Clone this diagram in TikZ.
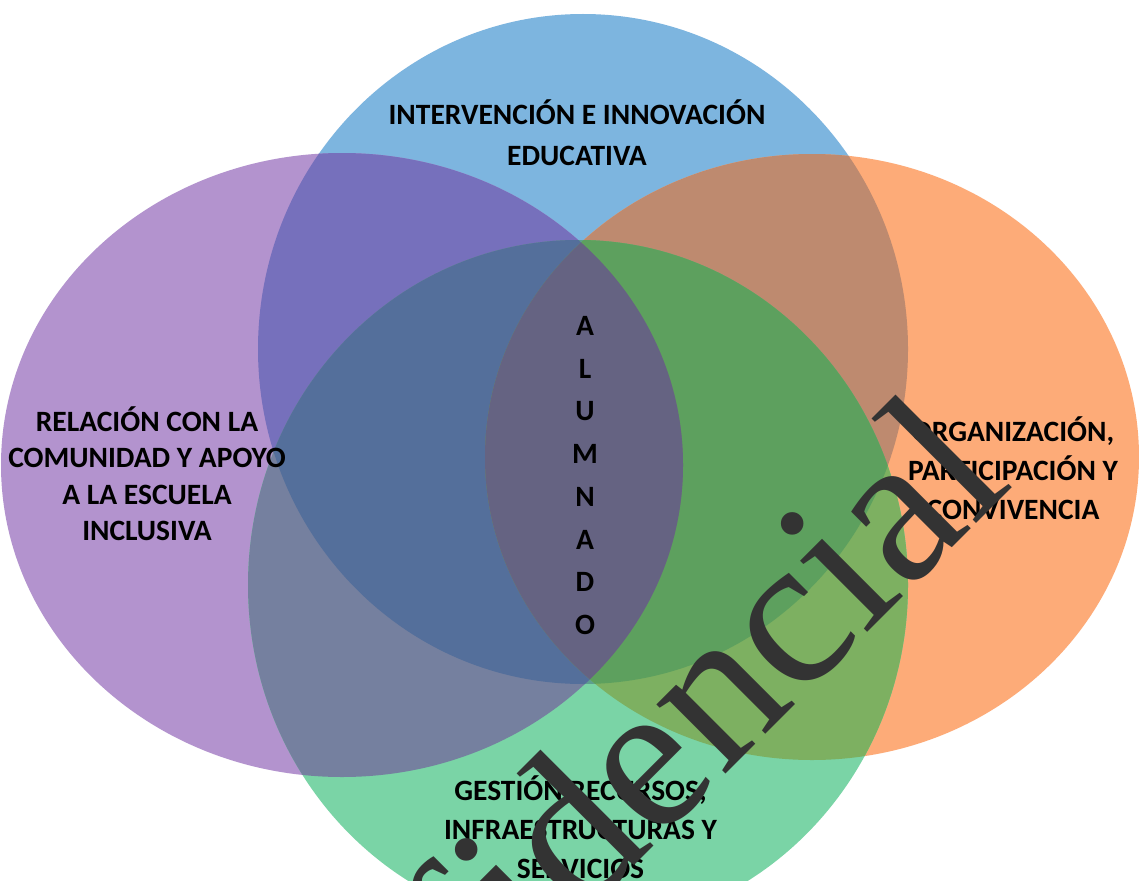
\documentclass[tikz,border=0pt]{standalone}
\usepackage{fontspec}
\setmainfont{Carlito}
\newfontfamily\wmfont{Liberation Serif}
\definecolor{cB}{HTML}{7DB5DF}
\definecolor{cP}{HTML}{B393CE}
\definecolor{cO}{HTML}{FDAB78}
\definecolor{cG}{HTML}{7AD4A6}
\definecolor{cBP}{HTML}{7670BC}
\definecolor{cBO}{HTML}{BE8A6F}
\definecolor{cBG}{HTML}{5D9F8F}
\definecolor{cPO}{HTML}{8E6E90}
\definecolor{cPG}{HTML}{75809F}
\definecolor{cOG}{HTML}{7DB061}
\definecolor{cBPO}{HTML}{7B6C92}
\definecolor{cBPG}{HTML}{546F9B}
\definecolor{cBOG}{HTML}{5DA05E}
\definecolor{cPOG}{HTML}{6F7A73}
\definecolor{cAll}{HTML}{656382}
\definecolor{wmgray}{HTML}{333333}
\def\pB{(583,349) ellipse [x radius=325pt, y radius=335pt]}
\def\pP{(342,465) ellipse [x radius=341pt, y radius=312pt]}
\def\pO{(812,457) ellipse [x radius=327pt, y radius=303pt]}
\def\pG{(578,585) ellipse [x radius=330pt, y radius=345pt]}
\begin{document}
\begin{tikzpicture}[x=1pt,y=-1pt,
  lbl/.style={font=\bfseries\fontsize{29.5}{38.5}\selectfont, align=center, text=black, inner sep=0pt},
  wm/.style={font=\wmfont\fontsize{213}{213}\selectfont, text=wmgray, inner sep=0pt}]
\useasboundingbox (0,0) rectangle (1139,880);
\clip (0,0) rectangle (1139,880);
\fill[white] (0,0) rectangle (1139,880);
% single regions
\fill[cB] \pB;
\fill[cP] \pP;
\fill[cO] \pO;
\fill[cG] \pG;
% pairs
\begin{scope}\clip \pB; \fill[cBP] \pP; \fill[cBO] \pO; \fill[cBG] \pG; \end{scope}
\begin{scope}\clip \pP; \fill[cPO] \pO; \fill[cPG] \pG; \end{scope}
\begin{scope}\clip \pO; \fill[cOG] \pG; \end{scope}
% triples
\begin{scope}\clip \pB; \clip \pP; \fill[cBPO] \pO; \fill[cBPG] \pG; \end{scope}
\begin{scope}\clip \pB; \clip \pO; \fill[cBOG] \pG; \end{scope}
\begin{scope}\clip \pP; \clip \pO; \fill[cPOG] \pG; \end{scope}
% all four
\begin{scope}\clip \pB; \clip \pP; \clip \pO; \fill[cAll] \pG; \end{scope}
% labels
\node[lbl, font=\bfseries\fontsize{29.5}{40.5}\selectfont] (top) at (577,132.5) {INTERVENCIÓN E INNOVACIÓN\\EDUCATIVA};
\node[lbl, font=\bfseries\fontsize{29.5}{36.5}\selectfont] (left) at (147,473.5) {RELACIÓN CON LA\\COMUNIDAD Y APOYO\\A LA ESCUELA\\INCLUSIVA};
\node[lbl, font=\bfseries\fontsize{29.5}{39}\selectfont] (right) at (1013,468) {ORGANIZACIÓN,\\PARTICIPACIÓN Y\\CONVIVENCIA};
\node[lbl, font=\bfseries\fontsize{29.5}{39}\selectfont] (bottom) at (580.5,827.5) {GESTIÓN RECURSOS,\\INFRAESTRUCTURAS Y\\SERVICIOS};
\node[lbl, font=\bfseries\fontsize{29.5}{42.7}\selectfont] (center) at (585,475.5) {A\\L\\U\\M\\N\\A\\D\\O};
% watermark
\node[wm, rotate=45, anchor=base] (mark) at (626,874) {Confidencial};
\end{tikzpicture}
\end{document}
